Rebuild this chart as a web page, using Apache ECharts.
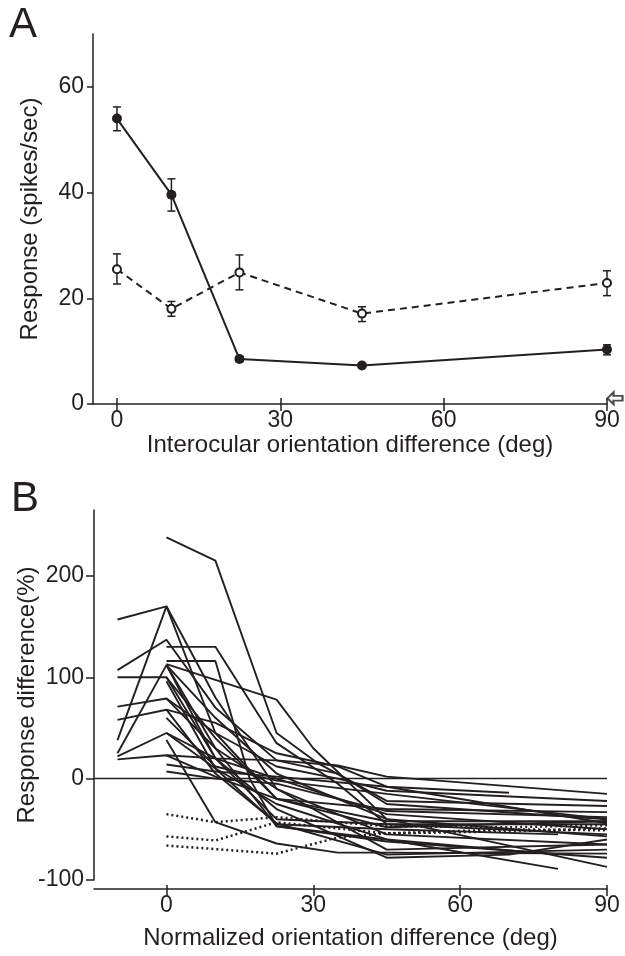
<!DOCTYPE html>
<html><head><meta charset="utf-8">
<script src="https://cdn.jsdelivr.net/npm/echarts@6/dist/echarts.min.js"></script>
<style>html,body{margin:0;padding:0;background:#fff}#c{width:625px;height:956px}</style>
</head><body><div id="c"></div>
<script>
// ---------- Panel A data ----------
const orientA = [0, 10, 22.5, 45, 90];
const binoMean = [54.0, 39.6, 8.5, 7.3, 10.3];
const binoLow  = [51.7, 36.5, 8.0, 6.9, 9.3];
const binoHigh = [56.2, 42.6, 9.0, 7.7, 11.2];
const monoMean = [25.5, 18.0, 24.9, 17.1, 22.9];
const monoLow  = [22.7, 16.6, 21.6, 15.6, 20.5];
const monoHigh = [28.4, 19.4, 28.2, 18.4, 25.2];
const arrowMark = [[90, 1.1]];
const ticksAX = [0, 30, 60, 90];
const ticksAY = [0, 20, 40, 60];

// ---------- Panel B data ----------
const ticksBX = [0, 30, 60, 90];
const ticksBY = [-100, 0, 100, 200];
const solidCells = [
  [[-10,157],[0,170],[10,45],[22.5,-20],[45,-48],[90,-42]],
  [[-10,38],[0,170],[10,80],[22.5,-10],[45,-55],[90,-65]],
  [[-10,107],[0,137],[10,70],[22.5,18],[35,5],[45,-25],[90,-40]],
  [[-10,100],[0,100],[10,40],[22.5,-20],[45,-30],[90,-33]],
  [[-10,71],[0,79],[10,45],[22.5,12],[35,0],[45,-12],[90,-22]],
  [[-10,58],[0,68],[10,55],[22.5,25],[35,12],[45,-8],[70,-14]],
  [[-10,25],[0,112],[10,30],[22.5,-47],[45,-60],[80,-89]],
  [[-10,22],[0,45],[10,20],[22.5,0],[45,-35],[90,-50]],
  [[-10,19],[0,23],[10,20],[22.5,18],[35,13],[45,2],[90,-15]],
  [[0,238],[10,215],[22.5,45],[31,15],[45,-22],[90,-27]],
  [[0,130],[10,130],[22.5,35],[35,-5],[45,-45],[90,-55]],
  [[0,116],[10,116],[17,0],[22.5,-47],[45,-62],[90,-78]],
  [[0,113],[22.5,78],[30,30],[45,-40],[90,-87]],
  [[0,96],[10,10],[22.5,-25],[45,-60],[80,-75]],
  [[0,38],[10,-43],[22.5,-64],[35,-73],[45,-73],[90,-74]],
  [[0,14],[10,7],[22.5,2],[45,-8],[90,-44]],
  [[0,7],[10,0],[22.5,-5],[45,-32],[90,-38]],
  [[0,112],[10,60],[22.5,5],[45,-40],[90,-57]],
  [[0,112],[10,20],[22.5,-40],[45,-45],[90,-45]],
  [[0,79],[10,30],[22.5,-10],[45,-70],[90,-65]],
  [[0,68],[10,5],[22.5,-44],[45,-75],[90,-70]],
  [[0,45],[10,10],[22.5,-45],[45,-50],[80,-55]],
  [[0,100],[10,20],[22.5,-30],[45,-78],[70,-75],[90,-60]],
  [[0,60],[10,12],[22.5,-2],[45,-15],[90,-40]],
  [[0,23],[10,2],[22.5,-20],[45,-42],[90,-42]]
];
const dottedCells = [
  [[0,-35],[10,-43],[22.5,-38],[45,-47],[70,-48],[90,-46]],
  [[0,-57],[10,-61],[22.5,-43],[45,-54],[70,-50],[90,-51]],
  [[0,-66],[22.5,-74],[35,-58],[45,-54],[70,-52],[90,-49]]
];

const INK = '#231f20';
const FONT = 'Liberation Sans, Arial, Helvetica, sans-serif';

function errRender(params, api) {
  const x = api.value(0), lo = api.value(1), hi = api.value(2);
  const p1 = api.coord([x, lo]), p2 = api.coord([x, hi]);
  const w = 4;
  const st = { stroke: INK, lineWidth: 1.5 };
  return { type: 'group', children: [
    { type: 'line', shape: { x1: p1[0], y1: p1[1], x2: p2[0], y2: p2[1] }, style: st },
    { type: 'line', shape: { x1: p1[0]-w, y1: p1[1], x2: p1[0]+w, y2: p1[1] }, style: st },
    { type: 'line', shape: { x1: p2[0]-w, y1: p2[1], x2: p2[0]+w, y2: p2[1] }, style: st }
  ]};
}

const axisTxt = { color: INK, fontFamily: FONT, fontSize: 23 };
const nameTxt = { color: INK, fontFamily: FONT, fontSize: 24 };

const series = [];
// Panel A
series.push({ type: 'custom', xAxisIndex: 0, yAxisIndex: 0, renderItem: errRender, z: 1, clip: false,
  encode: { x: 0, y: [1, 2] }, data: orientA.map((x, i) => [x, monoLow[i], monoHigh[i]]) });
series.push({ type: 'custom', xAxisIndex: 0, yAxisIndex: 0, renderItem: errRender, z: 1, clip: false,
  encode: { x: 0, y: [1, 2] }, data: orientA.map((x, i) => [x, binoLow[i], binoHigh[i]]) });
series.push({ type: 'line', xAxisIndex: 0, yAxisIndex: 0, z: 3, clip: false,
  data: orientA.map((x, i) => [x, monoMean[i]]),
  lineStyle: { color: INK, width: 2, type: [7, 5] },
  symbol: 'circle', symbolSize: 8, itemStyle: { color: '#fff', borderColor: INK, borderWidth: 2 } });
series.push({ type: 'line', xAxisIndex: 0, yAxisIndex: 0, z: 4, clip: false,
  data: orientA.map((x, i) => [x, binoMean[i]]),
  lineStyle: { color: INK, width: 2 },
  symbol: 'circle', symbolSize: 10, itemStyle: { color: INK, borderColor: INK, borderWidth: 0 } });
series.push({ type: 'scatter', xAxisIndex: 0, yAxisIndex: 0, z: 5, clip: false,
  data: arrowMark,
  symbol: 'path://M0,5 L6,0 L6,3 L15,3 L15,7 L6,7 L6,10 Z', symbolSize: [15, 12], symbolOffset: [8, 0],
  itemStyle: { color: '#fff', borderColor: INK, borderWidth: 2 } });

// Panel B
solidCells.forEach((cell, k) => {
  const s = { type: 'line', xAxisIndex: 2, yAxisIndex: 1, data: cell, symbol: 'none', clip: false,
    lineStyle: { color: INK, width: 1.9 }, silent: true };
  if (k === 0) {
    s.markLine = { silent: true, symbol: 'none', label: { show: false },
      lineStyle: { color: INK, width: 1.3, type: 'solid' }, data: [{ yAxis: 0 }] };
  }
  series.push(s);
});
dottedCells.forEach(cell => {
  series.push({ type: 'line', xAxisIndex: 2, yAxisIndex: 1, data: cell, symbol: 'none', clip: false,
    lineStyle: { color: INK, width: 2.5, type: [2, 3] }, silent: true });
});

const option = {
  animation: false,
  backgroundColor: '#fff',
  textStyle: { fontFamily: FONT },
  grid: [
    { left: 93, right: 18, top: 34, bottom: 552, containLabel: false, outerBoundsMode: 'none' },
    { left: 94, right: 18, top: 510, bottom: 76, containLabel: false, outerBoundsMode: 'none' }
  ],
  xAxis: [
    { type: 'value', gridIndex: 0, min: -4.4, max: 90, position: 'bottom',
      name: 'Interocular orientation difference (deg)', nameLocation: 'middle', nameGap: 27, nameTextStyle: nameTxt,
      axisLine: { onZero: false, lineStyle: { color: INK, width: 1.5 } },
      axisTick: { customValues: ticksAX, length: 7, lineStyle: { color: INK, width: 1.5 } },
      axisLabel: { customValues: ticksAX, margin: 5, ...axisTxt },
      splitLine: { show: false } },
    { type: 'value', gridIndex: 0, min: -4.4, max: 90, position: 'bottom',
      axisLine: { show: false, onZero: false },
      axisTick: { customValues: ticksAX, inside: true, length: 6, lineStyle: { color: INK, width: 1.5 } },
      axisLabel: { show: false }, splitLine: { show: false } },
    { type: 'value', gridIndex: 1, min: -14.8, max: 90, offset: 9, position: 'bottom',
      name: 'Normalized orientation difference (deg)', nameLocation: 'middle', nameGap: 37, nameTextStyle: nameTxt,
      axisLine: { onZero: false, lineStyle: { color: INK, width: 1.5 } },
      axisTick: { customValues: ticksBX, length: 7, lineStyle: { color: INK, width: 1.5 } },
      axisLabel: { customValues: ticksBX, margin: 5, ...axisTxt },
      splitLine: { show: false } },
    { type: 'value', gridIndex: 1, min: -14.8, max: 90, offset: 9, position: 'bottom',
      axisLine: { show: false, onZero: false },
      axisTick: { customValues: ticksBX, inside: true, length: 4, lineStyle: { color: INK, width: 1.5 } },
      axisLabel: { show: false }, splitLine: { show: false } }
  ],
  yAxis: [
    { type: 'value', gridIndex: 0, min: 0, max: 70, position: 'left',
      name: 'Response (spikes/sec)', nameLocation: 'middle', nameGap: 51, nameTextStyle: nameTxt,
      axisLine: { onZero: false, lineStyle: { color: INK, width: 1.5 } },
      axisTick: { customValues: ticksAY, length: 6, lineStyle: { color: INK, width: 1.5 } },
      axisLabel: { customValues: ticksAY, margin: 9, ...axisTxt },
      splitLine: { show: false } },
    { type: 'value', gridIndex: 1, min: -100, max: 265, position: 'left',
      name: 'Response difference(%)', nameLocation: 'middle', nameGap: 55, nameMoveOverlap: false, nameTextStyle: nameTxt,
      axisLine: { onZero: false, lineStyle: { color: INK, width: 1.5 } },
      axisTick: { customValues: ticksBY, length: 8, lineStyle: { color: INK, width: 1.5 } },
      axisLabel: { customValues: ticksBY, margin: 10, ...axisTxt },
      splitLine: { show: false } }
  ],
  graphic: [
    { type: 'text', left: 9, top: 4, style: { text: 'A', fontSize: 42, fontFamily: FONT, fill: INK } },
    { type: 'text', left: 11, top: 478, style: { text: 'B', fontSize: 42, fontFamily: FONT, fill: INK } }
  ],
  series: series
};

const chart = echarts.init(document.getElementById('c'), null, { renderer: 'canvas' });
chart.setOption(option);
</script>
</body></html>
